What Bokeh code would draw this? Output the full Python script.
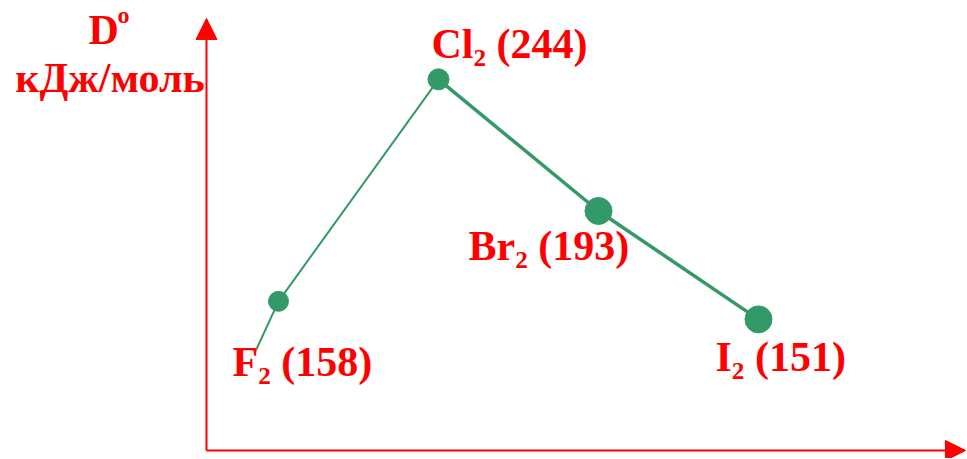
import math
from bokeh.plotting import figure
from bokeh.models import Arrow, NormalHead, Label, ColumnDataSource, Range1d
from bokeh.core.properties import value
from bokeh.embed import file_html
from bokeh.resources import INLINE

# ---- data ----
molecules = ["F₂", "Cl₂", "Br₂", "I₂"]
energies = [158, 244, 193, 151]          # D°, kJ/mol
order = [0, 1, 2, 3]                      # position along the row F, Cl, Br, I
unit_label = "кДж/моль"
symbol_main = "D"
symbol_sup = "o"

# ---- style ----
RED = "#FF0000"
GREEN = "#339966"
FONT_NAME = "Liberation Serif"
FONT = value(FONT_NAME)
seg_widths = [2, 3.5, 3.5]
marker_sizes = [20, 21, 27, 27]
label_dx = [-46, -7, -130, -43]
label_dy = [61, -35, 35, 38]

W, H = 966, 458
p = figure(width=W, height=H, output_backend="svg", toolbar_location=None,
           x_range=Range1d(-1.7375, 4.3), y_range=Range1d(97.1, 274.55),
           x_axis_location=None, y_axis_location=None, min_border=0)
p.grid.visible = False
p.outline_line_color = None
p.background_fill_color = "white"
p.border_fill_color = "white"

# axes with arrows
ax_x = -0.45
ax_y = 100.2
p.add_layout(Arrow(x_start=ax_x, y_start=ax_y, x_end=ax_x, y_end=267.6,
                   line_color=RED, line_width=2,
                   end=NormalHead(size=21, fill_color=RED, line_color=RED)))
p.add_layout(Arrow(x_start=ax_x, y_start=ax_y, x_end=4.294, y_end=ax_y,
                   line_color=RED, line_width=2,
                   end=NormalHead(size=20, fill_color=RED, line_color=RED)))

# line segments
seg = ColumnDataSource(dict(x0=order[:-1], y0=energies[:-1], x1=order[1:], y1=energies[1:], w=seg_widths))
p.segment(x0="x0", y0="y0", x1="x1", y1="y1", line_width="w", line_color=GREEN, source=seg)
# short tail below F2
p.ray(x=[order[0]], y=[energies[0]], length=55, length_units="screen",
      angle=math.radians(245.3), line_color=GREEN, line_width=2)

pts = ColumnDataSource(dict(x=order, y=energies, s=marker_sizes,
                            t=[f"{m} ({e})" for m, e in zip(molecules, energies)],
                            dx=label_dx, dy=label_dy))
p.scatter(x="x", y="y", size="s", fill_color=GREEN, line_color=GREEN, source=pts)
p.text(x="x", y="y", text="t", x_offset="dx", y_offset="dy", source=pts,
       text_font=FONT, text_font_style="bold", text_font_size="42px",
       text_color=RED, text_align="left", text_baseline="alphabetic")

# axis title
p.add_layout(Label(x=109.5, y=381, x_units="screen", y_units="screen", text=unit_label,
                   text_font=FONT_NAME, text_font_style="bold", text_font_size="42px",
                   text_color=RED, text_align="center", text_baseline="alphabetic"))
p.add_layout(Label(x=88, y=429, x_units="screen", y_units="screen", text=symbol_main,
                   text_font=FONT_NAME, text_font_style="bold", text_font_size="42px",
                   text_color=RED, text_align="left", text_baseline="alphabetic"))
p.add_layout(Label(x=117, y=444, x_units="screen", y_units="screen", text=symbol_sup,
                   text_font=FONT_NAME, text_font_style="bold", text_font_size="24px",
                   text_color=RED, text_align="left", text_baseline="alphabetic"))

open("out.html", "w").write(file_html(p, INLINE))
